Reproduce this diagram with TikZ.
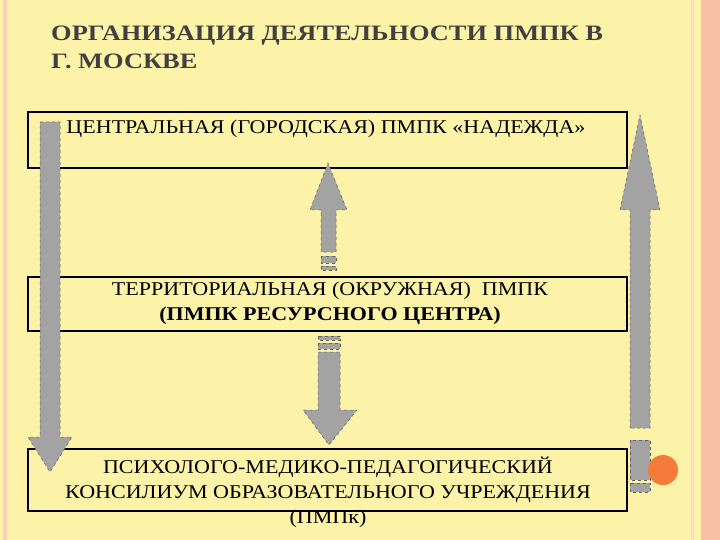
\documentclass[tikz,border=0pt]{standalone}
\usepackage{fontspec}
\setmainfont{Liberation Serif}
\begin{document}
\begin{tikzpicture}[x=1pt,y=-1pt,
  box/.style={draw=black,line width=1.2pt,fill=none},
  arr/.style={fill=arrgray,draw=arrgray!60!black,dashed,line width=0.5pt},
  lbl/.style={font=\fontsize{19.5}{25}\selectfont,align=center,text=black,xscale=1.13}]
\definecolor{bg}{HTML}{FCF2A8}
\definecolor{pinkb}{HTML}{F9C0A8}
\definecolor{arrgray}{HTML}{A3A3A3}
\definecolor{orangec}{HTML}{F47B3A}
\fill[bg] (0,0) rectangle (720,540);
\useasboundingbox (0,0) rectangle (720,540);
\fill[pinkb!80] (3,0) rectangle (7,540);
\fill[pinkb] (701,0) rectangle (720,540);
\fill[pinkb!60] (691,0) rectangle (694,540);
\node[anchor=north west,align=left,text=black!75,xscale=1.2,font=\bfseries\fontsize{22}{28}\selectfont] (title) at (47,22) {ОРГАНИЗАЦИЯ ДЕЯТЕЛЬНОСТИ ПМПК В\\Г. МОСКВЕ};
% boxes
\draw[box] (28,112) rectangle (627,168);
\draw[box] (28,277) rectangle (627,331);
\draw[box] (28,449) rectangle (627,511);
% left arrow down
\draw[arr] (40,122) -- (60,122) -- (60,437) -- (72,437) -- (50,472) -- (28,437) -- (40,437) -- cycle;
% middle up
\draw[arr] (321,252) -- (321,210) -- (310,210) -- (328,163) -- (347,210) -- (336,210) -- (336,252) -- cycle;
\draw[arr] (321,256) rectangle (336,263);
\draw[arr] (321,266) rectangle (336,270);
% middle down
\draw[arr] (318,352) -- (340,352) -- (340,410) -- (357,410) -- (329,445) -- (303,410) -- (318,410) -- cycle;
\draw[arr] (318,336) rectangle (340,340);
\draw[arr] (318,343) rectangle (340,349);
% right up
\draw[arr] (630,428) -- (630,210) -- (620,210) -- (640,115) -- (660,210) -- (650,210) -- (650,428) -- cycle;
\draw[arr] (630,440) rectangle (650,480);
\draw[arr] (630,483) rectangle (650,492);
\fill[orangec] (663,470) circle (15);
% labels
\node[lbl,fill=bg,inner sep=1pt] (t1) at (326,129) {ЦЕНТРАЛЬНАЯ (ГОРОДСКАЯ) ПМПК «НАДЕЖДА»};
\node[lbl] (t2) at (330,303) {ТЕРРИТОРИАЛЬНАЯ (ОКРУЖНАЯ)\ \ ПМПК\\\textbf{(ПМПК РЕСУРСНОГО ЦЕНТРА)}};
\node[lbl,inner sep=1pt] (t3) at (328,492) {ПСИХОЛОГО-МЕДИКО-ПЕДАГОГИЧЕСКИЙ\\КОНСИЛИУМ ОБРАЗОВАТЕЛЬНОГО УЧРЕЖДЕНИЯ\\(ПМПк)};
\end{tikzpicture}
\end{document}
